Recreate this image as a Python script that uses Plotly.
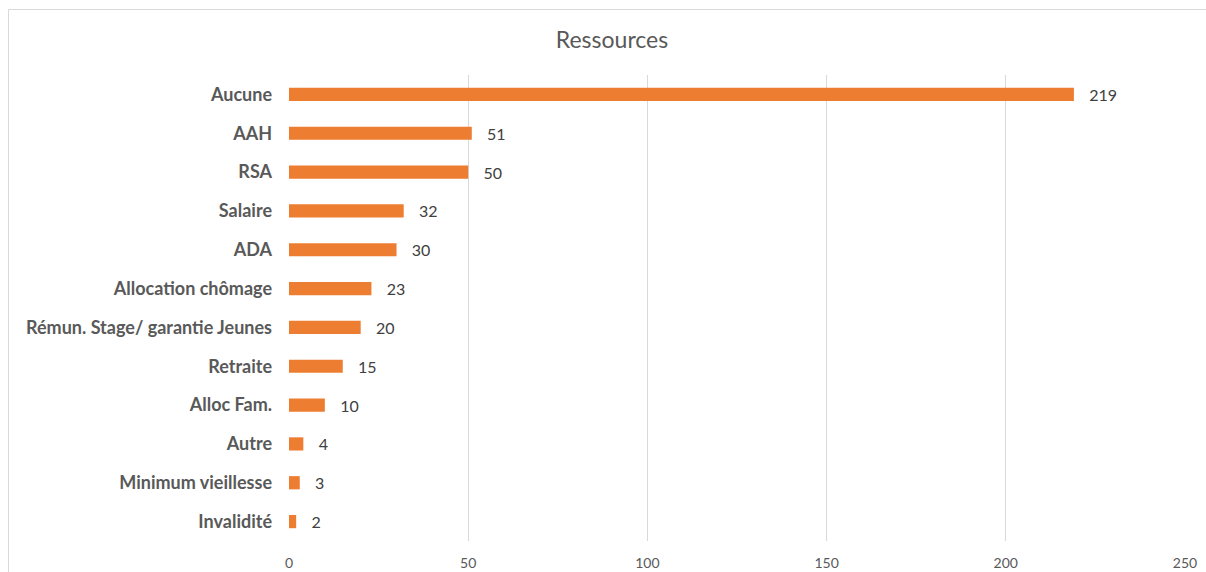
import plotly.graph_objects as go

# Resources reported, top to bottom
categories = [
    "Aucune", "AAH", "RSA", "Salaire", "ADA", "Allocation chômage",
    "Rémun. Stage/ garantie Jeunes", "Retraite", "Alloc Fam.", "Autre",
    "Minimum vieillesse", "Invalidité",
]
counts = [219, 51, 50, 32, 30, 23, 20, 15, 10, 4, 3, 2]
x_ticks = [0, 50, 100, 150, 200, 250]

FONT = "Lato, 'Open Sans', sans-serif"
ORANGE = "#ED7D31"

W, H = 1206, 572
L, R, T, B = 289, 21, 75, 31
pw, ph = W - L - R, H - T - B


def px_to_paper_x(px):
    return (px - L) / pw


def px_to_paper_y(py):
    return 1 - (py - T) / ph


fig = go.Figure(
    go.Bar(
        x=counts,
        y=categories,
        orientation="h",
        marker=dict(color=ORANGE, line=dict(width=0)),
        width=0.34,
        text=[str(v) for v in counts],
        texttemplate="   %{text}",
        textposition="outside",
        constraintext="none",
        textfont=dict(family=FONT, size=16, color="#404040"),
        cliponaxis=False,
        hoverinfo="skip",
    )
)

fig.update_layout(
    width=W,
    height=H,
    margin=dict(l=L, r=R, t=T, b=B, autoexpand=False),
    paper_bgcolor="white",
    plot_bgcolor="white",
    showlegend=False,
    title=dict(
        text="Ressources",
        x=612 / W,
        xanchor="center",
        y=1 - 40 / H,
        yanchor="middle",
        font=dict(family=FONT, size=23, color="#595959"),
    ),
    xaxis=dict(
        range=[0, 250],
        tickvals=x_ticks,
        showgrid=True,
        gridcolor="#D9D9D9",
        gridwidth=1,
        zeroline=False,
        showline=False,
        ticks="",
        automargin=False,
        ticklabelstandoff=12,
        tickfont=dict(family=FONT, size=14, color="#595959"),
    ),
    yaxis=dict(
        categoryorder="array",
        categoryarray=categories[::-1],
        showgrid=False,
        zeroline=False,
        showline=False,
        ticks="",
        automargin=False,
        ticklabelstandoff=16,
        tickfont=dict(family=FONT, size=18, color="#595959", weight="bold"),
    ),
    shapes=[
        dict(
            type="rect",
            xref="paper",
            yref="paper",
            x0=px_to_paper_x(8.5),
            x1=px_to_paper_x(1220),
            y0=px_to_paper_y(600),
            y1=px_to_paper_y(9.5),
            line=dict(color="#D9D9D9", width=1),
            fillcolor="rgba(0,0,0,0)",
            layer="below",
        )
    ],
)

fig.write_html("out.html")
